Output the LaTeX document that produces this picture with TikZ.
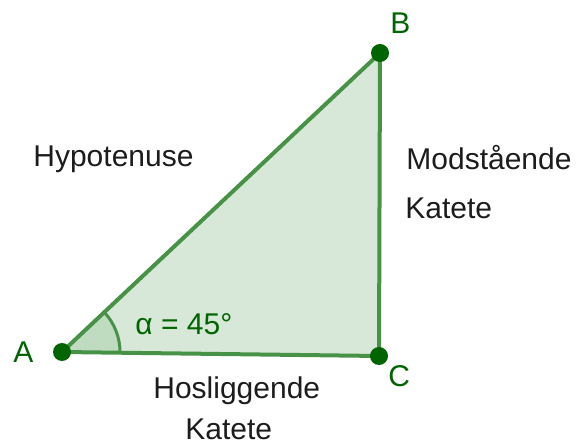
\documentclass[tikz,border=0pt]{standalone}
\usepackage{fontspec}
\setmainfont{Liberation Sans}
\usepackage{xcolor}
\usetikzlibrary{angles}

\definecolor{ptgreen}{RGB}{0,100,0}
\definecolor{sidegreen}{RGB}{72,146,72}
\definecolor{trifill}{RGB}{216,232,216}
\definecolor{anglefill}{RGB}{192,220,192}
\definecolor{textgray}{RGB}{28,28,28}

\begin{document}
\begin{tikzpicture}[
    x=0.5pt, y=0.5pt,
    font=\fontsize{15}{18}\selectfont,
    vertex/.style={circle, fill=ptgreen, inner sep=0pt, minimum size=9pt},
    side/.style={draw=sidegreen, line width=2pt},
    anglemark/.style={draw=sidegreen, fill=anglefill, line width=1.5pt, angle radius=29pt},
    ptlabel/.style={text=ptgreen, inner sep=0pt, anchor=base west},
    sidelabel/.style={text=textgray, inner sep=0pt, anchor=base west}
]
\useasboundingbox (0,0) rectangle (576,443);
\coordinate (A) at (62,91);
\coordinate (B) at (380,390);
\coordinate (C) at (379,87);
% triangle and angle at A
\fill[trifill] (A) -- (B) -- (C) -- cycle;
\pic[anglemark] {angle=C--A--B};
\draw[side] (A) -- (B) -- (C) -- cycle;
\node[vertex] (dotA) at (A) {};
\node[vertex] (dotB) at (B) {};
\node[vertex] (dotC) at (C) {};
% labels
\node[ptlabel] (labA) at (13,80) {A};
\node[ptlabel] (labB) at (390,409) {B};
\node[ptlabel] (labC) at (388,56) {C};
\node[ptlabel] (alpha) at (135,108) {α = 45°};
\node[sidelabel] (hyp) at (33,276) {Hypotenuse};
\node[sidelabel] (mod1) at (406,273) {Modstående};
\node[sidelabel] (mod2) at (405,224) {Katete};
\node[sidelabel] (hos1) at (153,45) {Hosliggende};
\node[sidelabel] (hos2) at (185,4) {Katete};
\end{tikzpicture}
\end{document}
